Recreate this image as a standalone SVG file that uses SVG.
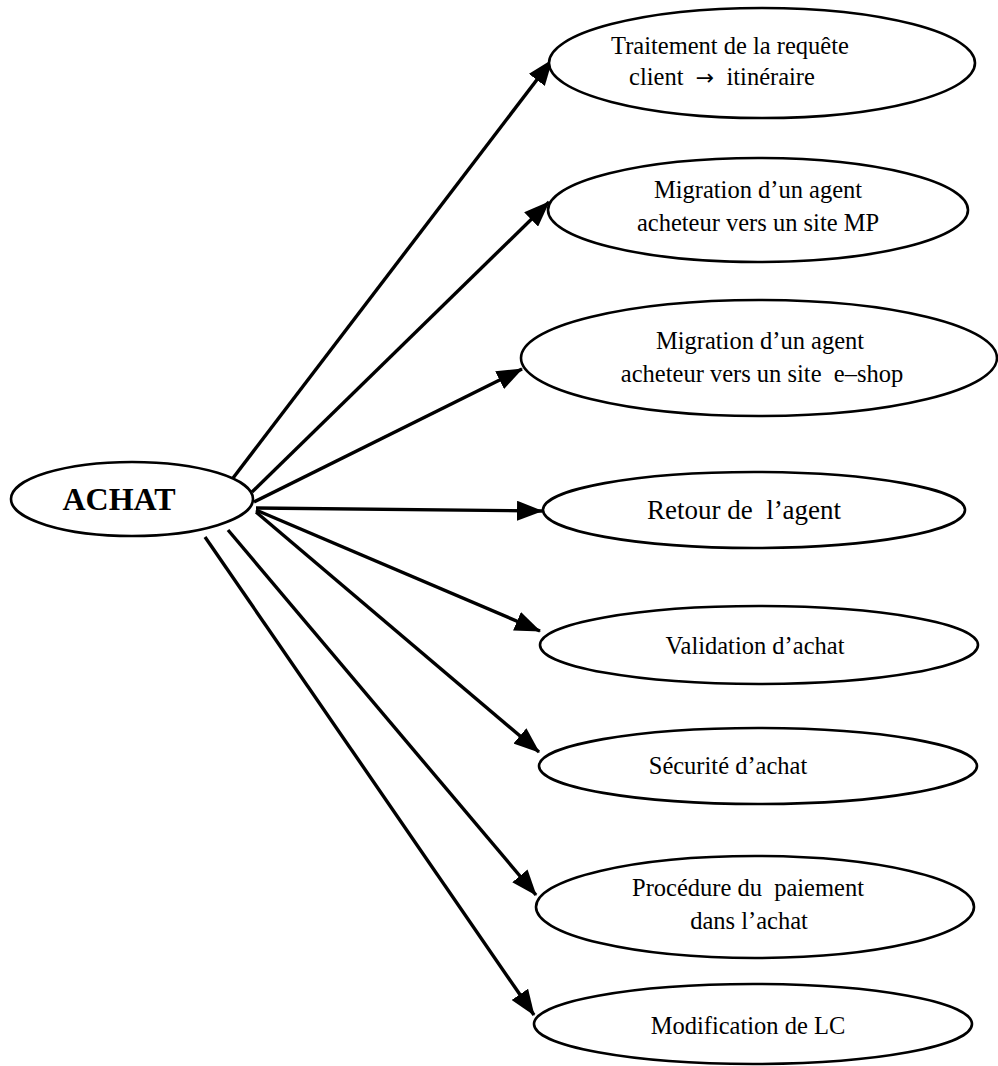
<svg xmlns="http://www.w3.org/2000/svg" width="998" height="1066" viewBox="0 0 998 1066">
  <style>
    .node ellipse { fill: #fff; stroke: #000; stroke-width: 2.6; }
    .lbl { font-family: "Liberation Serif", "Times New Roman", serif; font-size: 24.5px; fill: #000; text-anchor: middle; white-space: pre; }
    .sym { font-family: "DejaVu Sans", sans-serif; font-size: 22px; }
    .root { font-family: "Liberation Serif", "Times New Roman", serif; font-size: 32px; font-weight: bold; fill: #000; text-anchor: middle; }
    .edge { stroke: #000; stroke-width: 3.4; fill: none; marker-end: url(#head); }
  </style>
  <defs>
    <marker id="head" viewBox="0 0 26 20" markerWidth="26" markerHeight="20" refX="25" refY="10" orient="auto" markerUnits="userSpaceOnUse">
      <path d="M0,0 L26,10 L0,20 z" fill="#000"/>
    </marker>
  </defs>

  <rect width="998" height="1066" fill="#fff"/>

  <!-- connectors from the central use case -->
  <g id="connectors">
    <line class="edge" x1="230" y1="482" x2="552" y2="60"/>
    <line class="edge" x1="252" y1="492" x2="549" y2="202"/>
    <line class="edge" x1="254" y1="502" x2="522" y2="369"/>
    <line class="edge" x1="256" y1="508" x2="542" y2="511"/>
    <line class="edge" x1="256" y1="510" x2="540" y2="631"/>
    <line class="edge" x1="256" y1="512" x2="539" y2="752"/>
    <line class="edge" x1="228" y1="530" x2="536" y2="895"/>
    <line class="edge" x1="205" y1="537" x2="534" y2="1015"/>
  </g>

  <g id="achat" class="node">
    <ellipse cx="132" cy="499" rx="121" ry="37"/>
    <text class="root" x="119" y="510">ACHAT</text>
  </g>

  <g id="traitement" class="node">
    <ellipse cx="762" cy="63" rx="213" ry="55"/>
    <text class="lbl" x="730" y="54">Traitement de la requête</text>
    <text class="lbl" x="722" y="85" xml:space="preserve">client  <tspan class="sym">→</tspan>  itinéraire</text>
  </g>

  <g id="migration-mp" class="node">
    <ellipse cx="758" cy="210" rx="210" ry="52"/>
    <text class="lbl" x="758" y="198">Migration d’un agent</text>
    <text class="lbl" x="758" y="231">acheteur vers un site MP</text>
  </g>

  <g id="migration-eshop" class="node">
    <ellipse cx="759" cy="358" rx="238" ry="58"/>
    <text class="lbl" x="760" y="349">Migration d’un agent</text>
    <text class="lbl" x="762" y="382" xml:space="preserve">acheteur vers un site  e–shop</text>
  </g>

  <g id="retour" class="node">
    <ellipse cx="754" cy="510" rx="211" ry="38"/>
    <text class="lbl" x="744" y="519" style="font-size:27px" xml:space="preserve">Retour de  l’agent</text>
  </g>

  <g id="validation" class="node">
    <ellipse cx="759" cy="645" rx="219" ry="39"/>
    <text class="lbl" x="755" y="654">Validation d’achat</text>
  </g>

  <g id="securite" class="node">
    <ellipse cx="758" cy="766" rx="219" ry="38"/>
    <text class="lbl" x="728" y="774">Sécurité d’achat</text>
  </g>

  <g id="procedure" class="node">
    <ellipse cx="755" cy="907" rx="219" ry="51"/>
    <text class="lbl" x="748" y="896" xml:space="preserve">Procédure du  paiement</text>
    <text class="lbl" x="749" y="929">dans l’achat</text>
  </g>

  <g id="modification" class="node">
    <ellipse cx="753" cy="1024" rx="219" ry="40"/>
    <text class="lbl" x="748" y="1034">Modification de LC</text>
  </g>
</svg>
